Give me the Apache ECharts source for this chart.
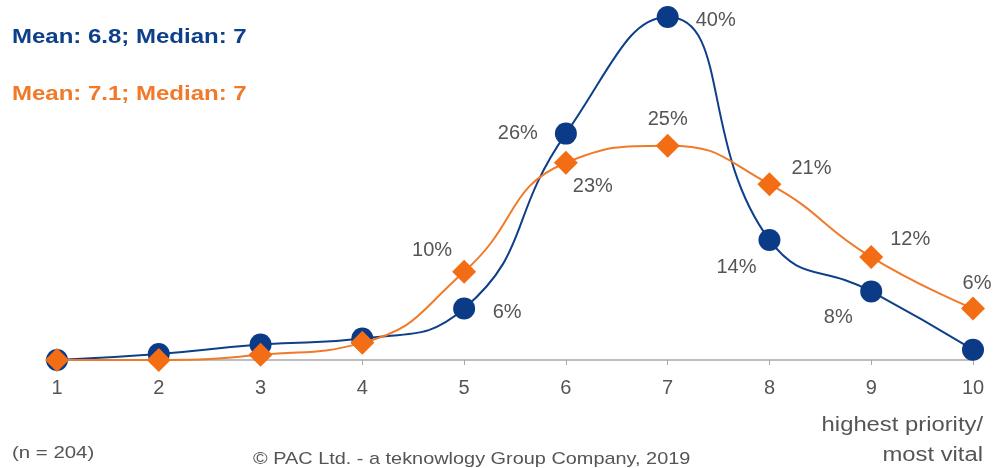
<!DOCTYPE html>
<html><head><meta charset="utf-8">
<script src="https://cdn.jsdelivr.net/npm/echarts@6/dist/echarts.min.js"></script>
<style>html,body{margin:0;padding:0;background:#fff}#c{width:994px;height:468px}</style>
</head><body><div id="c"></div>
<script>
const categories = ['1','2','3','4','5','6','7','8','9','10'];
const blueValues = [0, 0.7, 1.8, 2.5, 6, 26.4, 40, 14, 8, 1.2];
const orangeValues = [0, 0, 0.6, 2, 10.3, 23, 25, 20.5, 12, 6];
const blueLabeled = [false,false,false,false,true,true,true,true,true,false];
const orangeLabeled = [false,false,false,false,true,true,true,true,true,true];

const blueLabelOffsets = {4:[43,4], 5:[-48,0], 6:[48,3], 7:[-33,28], 8:[-33,26]};
const orangeLabelOffsets = {4:[-32,-21], 5:[27,24], 6:[0,-26], 7:[42,-16], 8:[39,-18], 9:[4,-25]};

function buildData(vals, labeled, offsets){
  return vals.map((v,i)=>({
    value: v,
    label: labeled[i] ? {show:true, position:'inside', offset: offsets[i]} : {show:false}
  }));
}
const FF = 'Liberation Sans, Arial, sans-serif';
const labelStyle = {color:'#555', fontSize:20, fontFamily:FF,
  formatter: p => Math.round(p.value) + '%'};

function txt(x, y, s, fill, font, sx, align){
  return {type:'text', x:x, y:y, scaleX:sx, scaleY:1,
    style:{text:s, fill:fill, font:font, align:align||'left', verticalAlign:'middle'}};
}

const chart = echarts.init(document.getElementById('c'));
chart.setOption({
  animation:false,
  grid:{left:57, right:21, top:17, bottom:108},
  xAxis:{type:'category', data:categories, boundaryGap:false,
    axisLine:{lineStyle:{color:'#a8a8a8', width:1.5}},
    axisTick:{show:true, alignWithLabel:true, length:5, lineStyle:{color:'#a8a8a8'}},
    axisLabel:{color:'#555', fontSize:20, fontFamily:FF, margin:18}},
  yAxis:{type:'value', min:0, max:40, show:false, splitLine:{show:false}},
  graphic:[
    txt(12, 37, 'Mean: 6.8; Median: 7', '#0e3f8a', 'bold 20px '+FF, 1.2),
    txt(12, 94, 'Mean: 7.1; Median: 7', '#f07a2a', 'bold 20px '+FF, 1.2),
    txt(12, 453, '(n = 204)', '#555', '17px '+FF, 1.2),
    txt(253, 459, '© PAC Ltd. - a teknowlogy Group Company, 2019', '#555', '17px '+FF, 1.17),
    txt(983, 425, 'highest priority/', '#555', '20px '+FF, 1.19, 'right'),
    txt(983, 455, 'most vital', '#555', '20px '+FF, 1.19, 'right')
  ],
  series:[
    {type:'line', name:'blue', data:buildData(blueValues, blueLabeled, blueLabelOffsets), smooth:0.5,
      symbol:'circle', symbolSize:22, z:2,
      lineStyle:{color:'#0e3f8a', width:2}, itemStyle:{color:'#0b3a87'}, label:labelStyle},
    {type:'line', name:'orange', data:buildData(orangeValues, orangeLabeled, orangeLabelOffsets), smooth:0.5,
      symbol:'diamond', symbolSize:24, z:3,
      lineStyle:{color:'#f07a2a', width:2}, itemStyle:{color:'#f26d14'}, label:labelStyle}
  ]
});
</script></body></html>
